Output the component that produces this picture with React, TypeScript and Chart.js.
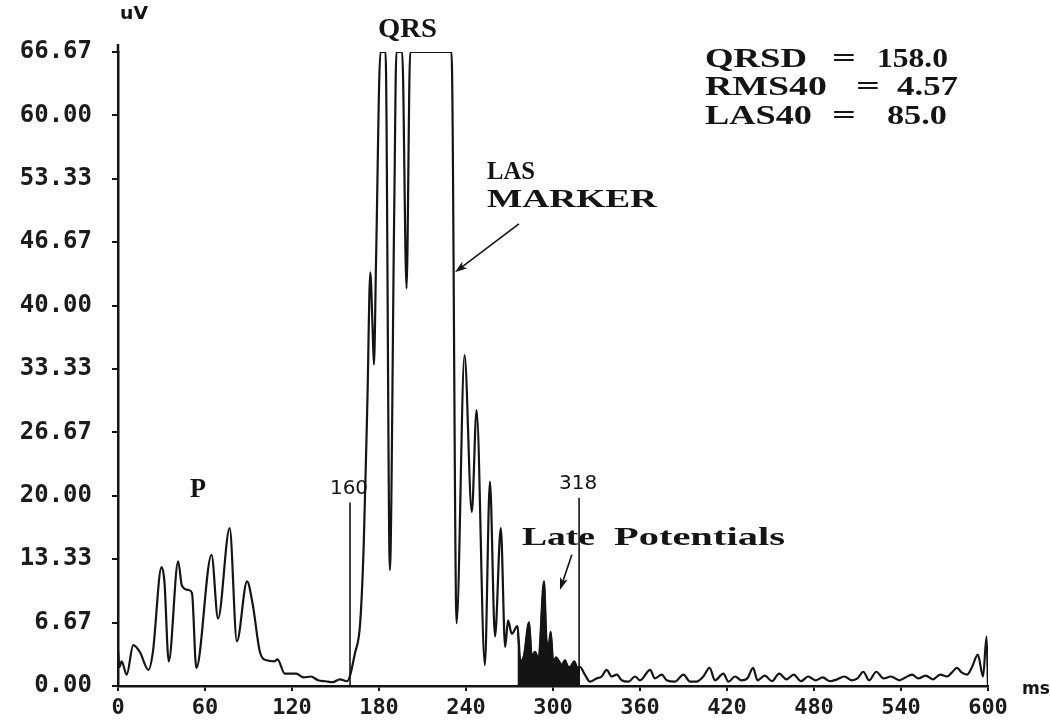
import React, { useEffect, useRef } from "react";
import { Chart, registerables } from "chart.js";

Chart.register(...registerables);

// Signal-averaged ECG: filtered QRS vector magnitude (uV) over time (ms)
const timeMs = [
  0, 1, 2.5, 6, 10.5, 15, 21, 24, 30, 32, 35, 41.5, 44, 48.5, 51, 54, 64.5, 69, 77, 82, 89, 93, 98, 102.5, 108, 110,
  115, 123, 128, 133, 138, 143, 148, 153, 158, 163.5, 167, 169.5, 172, 174, 175.5, 176.5, 178, 181, 184.5, 187.5,
  190.5, 192, 196, 199, 201.5, 230, 233.5, 239, 244, 247.3, 253, 256.5, 260, 264, 267, 269, 271.5, 275.5, 277.5,
  280, 283.5, 285.3, 287.6, 290, 293.8, 295.5, 297, 298.4, 300.2, 302, 303.7, 306, 308.3, 310, 311.7, 314.7, 316.5,
  318.6, 322, 325.5, 330, 333.6, 337, 340.5, 344, 347.4, 352, 356.6, 360, 367, 370.3, 375, 378.4, 384, 390, 394.5,
  399, 403.7, 408, 411.7, 417.5, 421, 425.5, 430, 434, 438, 441, 446, 451, 456, 461, 466, 471, 476, 481, 486, 491,
  496, 501, 506, 510, 514, 518, 523, 528, 533, 539, 543, 547.6, 552, 557, 562, 567, 571.7, 575, 578.6, 582, 585.5,
  589, 593, 596.6, 599, 600,
];
const voltageUv = [
  3.8, 2.0, 2.6, 1.2, 4.3, 3.6, 1.7, 3.5, 12.5, 11.0, 2.6, 13.1, 10.6, 10.1, 9.8, 1.9, 13.8, 7.1, 16.6, 4.7, 11.0, 8.5,
  3.5, 2.7, 2.6, 2.8, 1.3, 1.3, 0.9, 1.0, 0.6, 0.5, 0.4, 0.7, 0.5, 3.5, 6.6, 15, 30, 43.5, 38, 33.8, 45, 66.67, 66.67,
  12.2, 50, 66.67, 66.67, 41.8, 66.67, 66.67, 6.6, 34.8, 18.3, 29.0, 2.2, 21.5, 5.2, 16.6, 4.1, 6.9, 5.5, 6.3, 2.6,
  3.2, 6.7, 3.1, 3.6, 2.8, 11.0, 4.8, 4.2, 5.7, 2.4, 3.0, 2.7, 2.2, 2.7, 2.1, 2.0, 2.6, 2.0, 2.0, 1.2, 0.45, 0.8, 1.0,
  1.7, 1.0, 1.2, 0.6, 0.45, 1.0, 0.6, 1.7, 0.8, 1.2, 0.6, 0.45, 1.2, 0.45, 0.45, 1.0, 1.9, 0.6, 1.3, 0.45, 1.0, 0.6,
  0.8, 1.9, 0.6, 1.1, 0.5, 1.3, 0.7, 1.2, 0.5, 1.0, 0.6, 0.9, 0.5, 0.7, 1.0, 0.6, 0.8, 1.5, 0.6, 1.5, 0.8, 1.0, 0.6,
  0.9, 1.2, 0.8, 1.1, 0.7, 1.2, 1.0, 1.4, 1.9, 1.4, 1.2, 2.0, 3.3, 1.0, 5.2, 0.0,
];

// Late potentials window (shaded) and markers
const lateStartMs = 275.5;
const lateEndMs = 318.6;
const markerTimes = [160, 318];
const markerLabels = ["160", "318"];
const markerHeights = [19.3, 19.8];

// Axis ticks
const yTickValues = [0, 6.667, 13.333, 20, 26.667, 33.333, 40, 46.667, 53.333, 60, 66.67];
const yTickLabels = ["0.00", "6.67", "13.33", "20.00", "26.67", "33.33", "40.00", "46.67", "53.33", "60.00", "66.67"];
const xTickValues = [0, 60, 120, 180, 240, 300, 360, 420, 480, 540, 600];

// Summary statistics
const statNames = ["QRSD", "RMS40", "LAS40"];
const statValues = ["158.0", "4.57", "85.0"];

const INK = "#141414";
const SERIF = "'Liberation Serif', 'Times New Roman', serif";
const SANS = "'DejaVu Sans', sans-serif";

function drawFit(ctx: CanvasRenderingContext2D, str: string, x0: number, yMid: number, font: string, width: number) {
  ctx.save();
  ctx.font = font;
  const m = ctx.measureText(str).width;
  ctx.translate(x0, yMid);
  ctx.scale(width / m, 1);
  ctx.textAlign = "left";
  ctx.textBaseline = "middle";
  ctx.fillStyle = INK;
  ctx.fillText(str, 0, 0);
  ctx.restore();
}

function arrow(ctx: CanvasRenderingContext2D, x1: number, y1: number, x2: number, y2: number) {
  const ang = Math.atan2(y2 - y1, x2 - x1);
  ctx.save();
  ctx.strokeStyle = INK;
  ctx.fillStyle = INK;
  ctx.lineWidth = 1.6;
  ctx.beginPath();
  ctx.moveTo(x1, y1);
  ctx.lineTo(x2 - 6 * Math.cos(ang), y2 - 6 * Math.sin(ang));
  ctx.stroke();
  const L = 13;
  const W = 0.32;
  ctx.beginPath();
  ctx.moveTo(x2, y2);
  ctx.lineTo(x2 - L * Math.cos(ang - W), y2 - L * Math.sin(ang - W));
  ctx.lineTo(x2 - L * 0.7 * Math.cos(ang), y2 - L * 0.7 * Math.sin(ang));
  ctx.lineTo(x2 - L * Math.cos(ang + W), y2 - L * Math.sin(ang + W));
  ctx.closePath();
  ctx.fill();
  ctx.restore();
}

const annotations = {
  id: "ecgAnnotations",
  afterDraw(chart: any) {
    const { ctx, chartArea, scales } = chart;
    const xs = scales.x;
    const ys = scales.y;
    const px = (v: number) => xs.getPixelForValue(v);
    const py = (v: number) => ys.getPixelForValue(v);
    ctx.save();

    // y axis line extends a little above the top tick
    ctx.strokeStyle = INK;
    ctx.lineWidth = 2.5;
    ctx.beginPath();
    ctx.moveTo(chartArea.left, chartArea.top + 1);
    ctx.lineTo(chartArea.left, chartArea.top - 8);
    ctx.stroke();

    // unit labels
    drawFit(ctx, "uV", chartArea.left + 2, chartArea.top - 37, `bold 17px ${SANS}`, 28);
    drawFit(ctx, "ms", chartArea.right + 34, chartArea.bottom + 4, `bold 17px ${SANS}`, 28);

    // marker labels
    markerTimes.forEach((t, i) => {
      ctx.save();
      ctx.font = `20px ${SANS}`;
      ctx.fillStyle = INK;
      ctx.textAlign = "center";
      ctx.textBaseline = "middle";
      ctx.fillText(markerLabels[i], px(t) - 1, py(markerHeights[i]) - 14);
      ctx.restore();
    });

    // wave labels
    const big = `bold 28px ${SERIF}`;
    drawFit(ctx, "QRS", px(179.3), py(69.0), big, 59);
    drawFit(ctx, "P", px(49.7), py(20.6), big, 16);
    drawFit(ctx, "LAS", px(254.5), py(54.05), `bold 26px ${SERIF}`, 48);
    drawFit(ctx, "MARKER", px(254.5), py(51.1), `bold 26px ${SERIF}`, 170);
    drawFit(ctx, "Late", px(278.6), py(15.56), `bold 26px ${SERIF}`, 73);
    drawFit(ctx, "Potentials", px(342.0), py(15.56), `bold 26px ${SERIF}`, 171);

    // arrows
    arrow(ctx, px(276.5), py(48.6), px(232.4), py(43.5));
    arrow(ctx, px(313.0), py(13.8), px(304.8), py(10.1));

    // statistics box
    const statFont = `bold 27px ${SERIF}`;
    const rowsUv = [65.8, 62.9, 59.8];
    const nameW = [102, 122, 107];
    const eqMs = [500.7, 517.2, 500.7];
    const valRightMs = [572.4, 579.3, 571.7];
    const valW = [71, 61, 60];
    statNames.forEach((n, i) => {
      const yy = py(rowsUv[i]);
      drawFit(ctx, n, px(404.8), yy, statFont, nameW[i]);
      drawFit(ctx, "=", px(eqMs[i]) - 12, yy, statFont, 24);
      drawFit(ctx, statValues[i], px(valRightMs[i]) - valW[i], yy, statFont, valW[i]);
    });

    ctx.restore();
  },
};

export default function App() {
  const canvasRef = useRef<HTMLCanvasElement | null>(null);

  useEffect(() => {
    const canvas = canvasRef.current;
    if (!canvas) return;
    const trace = timeMs.map((t, i) => ({ x: t, y: voltageUv[i] }));
    const late = trace.filter((p) => p.x >= lateStartMs && p.x <= lateEndMs);
    const markerSets = markerTimes.map((t, i) => ({
      data: [
        { x: t, y: 0 },
        { x: t, y: markerHeights[i] },
      ],
      borderColor: INK,
      borderWidth: 1.6,
      pointRadius: 0,
      fill: false,
    }));

    const chart = new Chart(canvas, {
      type: "line",
      data: {
        datasets: [
          {
            data: trace,
            borderColor: INK,
            borderWidth: 2.2,
            pointRadius: 0,
            cubicInterpolationMode: "monotone",
            fill: false,
          },
          {
            data: late,
            borderColor: INK,
            backgroundColor: INK,
            borderWidth: 1.5,
            pointRadius: 0,
            cubicInterpolationMode: "monotone",
            fill: "origin",
          },
          ...markerSets,
        ] as any,
      },
      options: {
        animation: false,
        responsive: false,
        devicePixelRatio: 1,
        parsing: true,
        layout: { padding: { left: 0, right: 62, top: 52, bottom: 0 } },
        plugins: { legend: { display: false }, tooltip: { enabled: false } },
        scales: {
          x: {
            type: "linear",
            min: 0,
            max: 600,
            afterBuildTicks: (s: any) => {
              s.ticks = xTickValues.map((v) => ({ value: v }));
            },
            afterFit: (s: any) => {
              s.height = 39;
            },
            grid: { display: true, drawOnChartArea: false, drawTicks: true, tickLength: 5, color: INK, lineWidth: 2 },
            border: { display: true, color: INK, width: 2.5 },
            ticks: {
              autoSkip: false,
              maxRotation: 0,
              padding: 4,
              color: "#1c1c1c",
              font: { family: "'DejaVu Sans Mono', monospace", size: 22, weight: "bold" },
              callback: (v: any) => String(v),
            },
          },
          y: {
            type: "linear",
            min: 0,
            max: 66.67,
            afterBuildTicks: (s: any) => {
              s.ticks = yTickValues.map((v) => ({ value: v }));
            },
            afterFit: (s: any) => {
              s.width = 118;
            },
            grid: { display: true, drawOnChartArea: false, drawTicks: true, tickLength: 6, color: INK, lineWidth: 2 },
            border: { display: true, color: INK, width: 2.5 },
            ticks: {
              autoSkip: false,
              padding: 20,
              color: "#1c1c1c",
              font: { family: "'DejaVu Sans Mono', monospace", size: 24, weight: "bold" },
              callback: (_v: any, i: number) => yTickLabels[i],
            },
          },
        },
      },
      plugins: [annotations],
    });
    return () => chart.destroy();
  }, []);

  return (
    <div style={{ position: "fixed", left: 0, top: 0, width: 1050, height: 725, background: "#fff" }}>
      <canvas ref={canvasRef} width={1050} height={725} />
    </div>
  );
}
